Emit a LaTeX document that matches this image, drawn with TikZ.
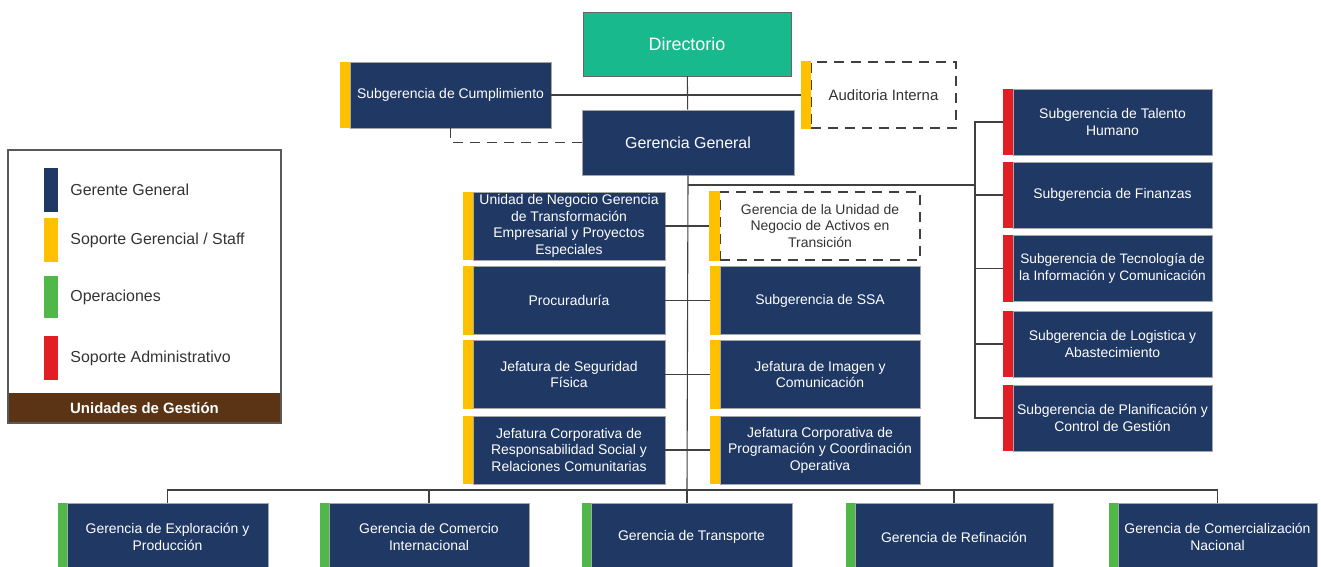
\documentclass[tikz,border=0pt]{standalone}
\usepackage{fontspec}
\setmainfont{Liberation Sans}
\usetikzlibrary{positioning}
\definecolor{navy}{RGB}{31,56,100}
\definecolor{dirgreen}{RGB}{24,185,140}
\definecolor{gold}{RGB}{255,192,0}
\definecolor{opgreen}{RGB}{80,184,72}
\definecolor{admred}{RGB}{226,29,36}
\definecolor{brownbar}{RGB}{90,52,20}
\begin{document}
\begin{tikzpicture}[x=1bp,y=-1bp,
    unit/.style={draw=gray!70, line width=0.6bp, fill=navy, text=white, align=center,
      inner sep=0pt, minimum height=66bp, font=\fontsize{14}{16.5}\selectfont},
    ghost/.style={unit, fill=white, text=black!80, draw=black!75, line width=1.2bp,
      dash pattern=on 10bp off 7bp},
    link/.style={draw=black!75, line width=1.1bp},
    key/.style={minimum width=14bp, minimum height=44bp, inner sep=0pt},
    keytext/.style={inner sep=0pt, text=black!80, font=\fontsize{16}{18}\selectfont}]
  \useasboundingbox (0,0) rectangle (1321,567);
  \clip (0,0) rectangle (1321,567);
  \path
    (687,44) node[draw=black!60, fill=dirgreen, text=white, minimum width=208bp,
      minimum height=64bp, font=\fontsize{18}{20}\selectfont] (dir) {Directorio}
    (450.5,95) node[unit, minimum width=201bp] (cum) {Subgerencia de Cumplimiento}
    (883.5,95) node[ghost, minimum width=145bp, font=\fontsize{15}{17}\selectfont] (aud) {Auditoria Interna}
    (688,142.5) node[unit, minimum width=212bp, minimum height=65bp,
      font=\fontsize{16}{18}\selectfont] (gg) {Gerencia General}
    % staff column, left
    (569,226) node[unit, minimum width=192bp, minimum height=68bp] (m1)
      {Unidad de Negocio Gerencia\\de Transformación\\Empresarial y Proyectos\\Especiales}
    (569,300.5) node[unit, minimum width=192bp, minimum height=68bp] (m2) {Procuraduría}
    (569,374.5) node[unit, minimum width=192bp, minimum height=68bp] (m3) {Jefatura de Seguridad\\Física}
    (569,450) node[unit, minimum width=192bp, minimum height=68bp] (m4)
      {Jefatura Corporativa de\\Responsabilidad Social y\\Relaciones Comunitarias}
    % staff column, right
    (820,226) node[ghost, minimum width=200bp, minimum height=68bp] (n1)
      {Gerencia de la Unidad de\\Negocio de Activos en\\Transición}
    (820,300.5) node[unit, minimum width=200bp, minimum height=68bp] (n2) {Subgerencia de SSA}
    (820,374.5) node[unit, minimum width=200bp, minimum height=68bp] (n3) {Jefatura de Imagen y\\Comunicación}
    (820,450) node[unit, minimum width=200bp, minimum height=68bp] (n4)
      {Jefatura Corporativa de\\Programación y Coordinación\\Operativa}
    % administrative support
    (1112.5,122) node[unit, minimum width=199bp] (r1) {Subgerencia de Talento\\Humano}
    (1112.5,195) node[unit, minimum width=199bp] (r2) {Subgerencia de Finanzas}
    (1112.5,268.5) node[unit, minimum width=199bp, font=\fontsize{13.7}{16.5}\selectfont] (r3)
      {Subgerencia de Tecnología de\\la Información y Comunicación}
    (1112.5,344) node[unit, minimum width=199bp] (r4) {Subgerencia de Logistica y\\Abastecimiento}
    (1112.5,418) node[unit, minimum width=199bp] (r5) {Subgerencia de Planificación y\\Control de Gestión}
    % operations
    (167.5,537) node[unit, minimum width=201bp, minimum height=67bp] (b1) {Gerencia de Exploración y\\Producción}
    (429,537) node[unit, minimum width=200bp, minimum height=67bp] (b2) {Gerencia de Comercio\\Internacional}
    (691.5,537) node[unit, minimum width=201bp, minimum height=67bp] (b3) {Gerencia de Transporte}
    (954,537) node[unit, minimum width=198bp, minimum height=67bp] (b4) {Gerencia de Refinación}
    (1217.5,537) node[unit, minimum width=199bp, minimum height=67bp] (b5) {Gerencia de Comercialización\\Nacional};
  \coordinate (bus) at (687,490);
  \coordinate (rb) at (975,185);
  \begin{scope}[link]
    \draw (dir) -- (gg);
    \draw (cum.east) -- (aud.west);
    \draw[dash pattern=on 10bp off 7bp] (cum.south) |- (gg.west);
    \draw (gg.south) -- (bus);
    \draw (gg.south |- rb) -- (rb);
    \draw (r1.west) -| (rb);
    \draw (r5.west) -| (rb);
    \draw (r2.west) -- (r2.west -| rb);
    \draw (r3.west) -- (r3.west -| rb);
    \draw (r4.west) -- (r4.west -| rb);
    \draw (m1.east) -- (n1.west);
    \draw (m2.east) -- (n2.west);
    \draw (m3.east) -- (n3.west);
    \draw (m4.east) -- (n4.west);
    \draw (b1.north) |- (bus) -| (b5.north);
    \draw (b2.north) -- (b2.north |- bus);
    \draw (bus) -- (bus |- b3.north);
    \draw (b4.north) -- (b4.north |- bus);
  \end{scope}
  % colour bars
  \fill[gold] ([xshift=-9.5bp]cum.north west) rectangle ([xshift=0.5bp]cum.south west);
  \fill[gold] ([xshift=-9.5bp]aud.north west) rectangle ([xshift=1bp]aud.south west);
  \fill[gold] ([xshift=-10bp]m1.north west) rectangle ([xshift=0.5bp]m1.south west);
  \fill[gold] ([xshift=-10bp]m2.north west) rectangle ([xshift=0.5bp]m2.south west);
  \fill[gold] ([xshift=-10bp]m3.north west) rectangle ([xshift=0.5bp]m3.south west);
  \fill[gold] ([xshift=-10bp]m4.north west) rectangle ([xshift=0.5bp]m4.south west);
  \fill[gold] ([xshift=-10bp]n1.north west) rectangle ([xshift=1bp]n1.south west);
  \fill[gold] ([xshift=-10bp]n2.north west) rectangle ([xshift=0.5bp]n2.south west);
  \fill[gold] ([xshift=-10bp]n3.north west) rectangle ([xshift=0.5bp]n3.south west);
  \fill[gold] ([xshift=-10bp]n4.north west) rectangle ([xshift=0.5bp]n4.south west);
  \fill[admred] ([xshift=-10bp]r1.north west) rectangle ([xshift=0.5bp]r1.south west);
  \fill[admred] ([xshift=-10bp]r2.north west) rectangle ([xshift=0.5bp]r2.south west);
  \fill[admred] ([xshift=-10bp]r3.north west) rectangle ([xshift=0.5bp]r3.south west);
  \fill[admred] ([xshift=-10bp]r4.north west) rectangle ([xshift=0.5bp]r4.south west);
  \fill[admred] ([xshift=-10bp]r5.north west) rectangle ([xshift=0.5bp]r5.south west);
  \fill[opgreen] ([xshift=-9bp]b1.north west) rectangle ([xshift=0.5bp]b1.south west);
  \fill[opgreen] ([xshift=-9bp]b2.north west) rectangle ([xshift=0.5bp]b2.south west);
  \fill[opgreen] ([xshift=-9bp]b3.north west) rectangle ([xshift=0.5bp]b3.south west);
  \fill[opgreen] ([xshift=-9bp]b4.north west) rectangle ([xshift=0.5bp]b4.south west);
  \fill[opgreen] ([xshift=-9bp]b5.north west) rectangle ([xshift=0.5bp]b5.south west);
  % legend
  \node[fill=brownbar, text=white, minimum width=273bp, minimum height=30bp, inner sep=0pt,
    font=\bfseries\fontsize{15}{18}\selectfont] (unid) at (144.5,408) {Unidades de Gestión};
  \draw[gray!70!black, line width=1.5bp] (8,150) rectangle (281,423);
  \node[key, fill=navy] (k1) at (51,190) {};
  \node[key, fill=gold] (k2) at (51,240) {};
  \node[key, fill=opgreen, minimum height=42bp] (k3) at (51,297) {};
  \node[key, fill=admred] (k4) at (51,358) {};
  \node[keytext, right=12bp of k1] (t1) {Gerente General};
  \node[keytext, right=12bp of k2] (t2) {Soporte Gerencial / Staff};
  \node[keytext, right=12bp of k3] (t3) {Operaciones};
  \node[keytext, right=12bp of k4] (t4) {Soporte Administrativo};
\end{tikzpicture}
\end{document}
